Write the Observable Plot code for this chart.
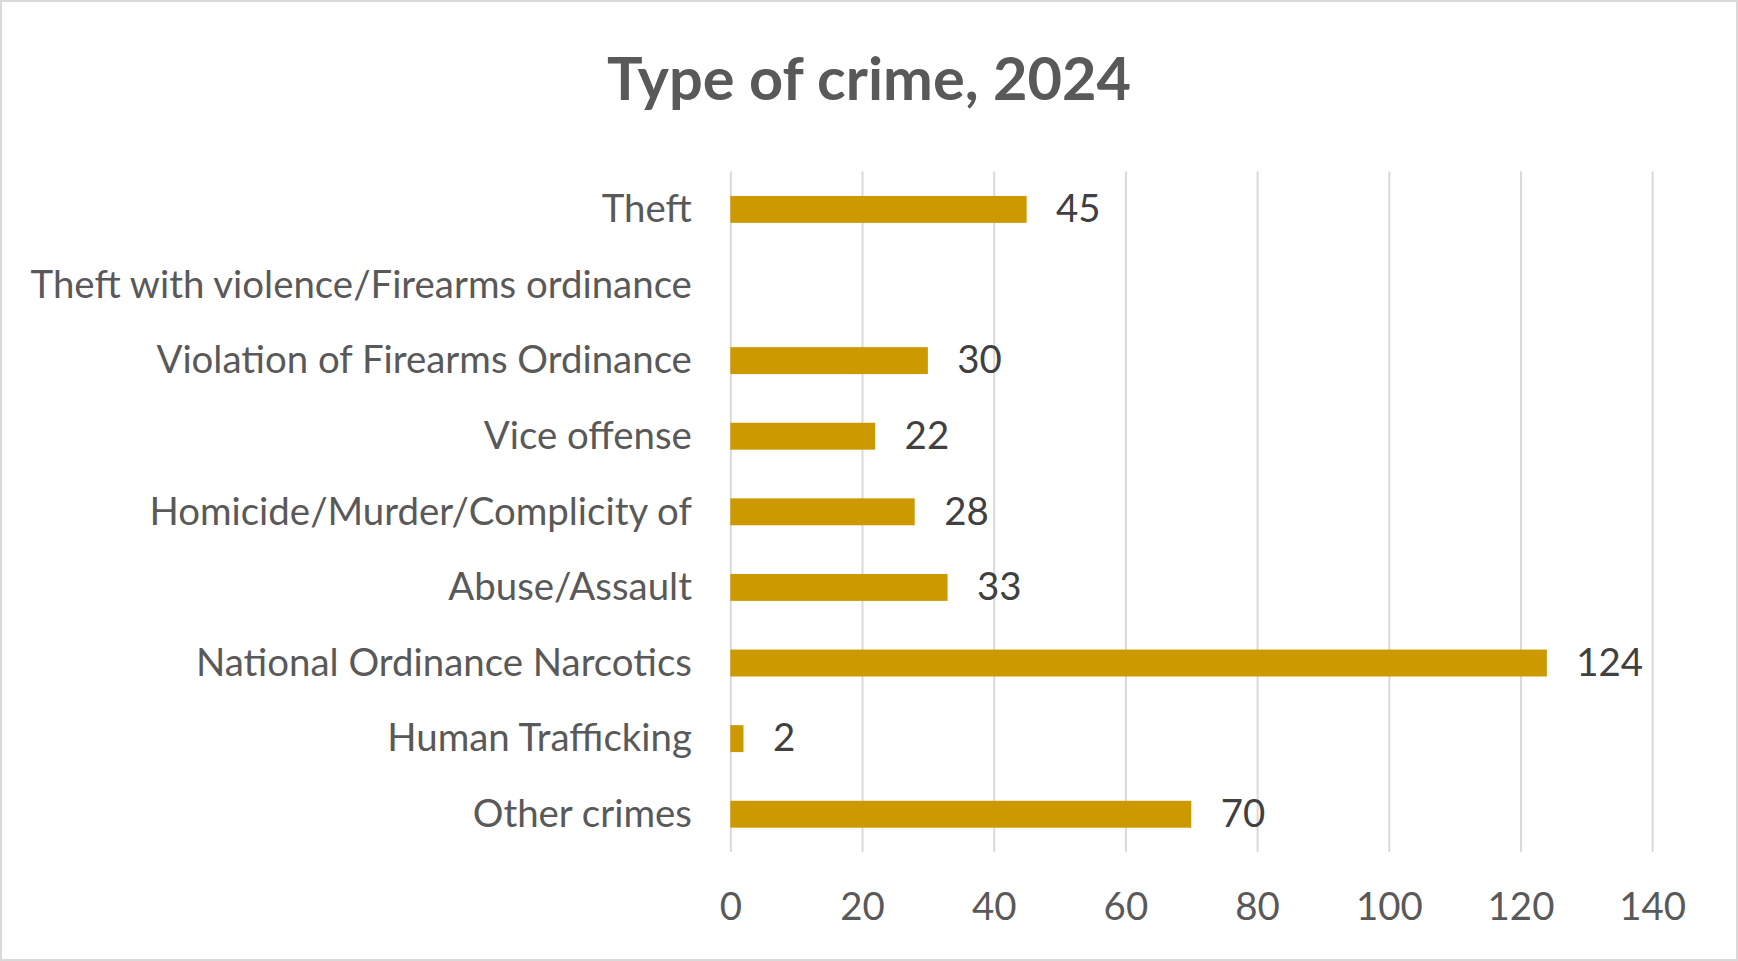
<!DOCTYPE html>
<html>
<head>
<meta charset="utf-8">
<script src="https://cdn.jsdelivr.net/npm/d3@7"></script>
<script src="https://cdn.jsdelivr.net/npm/@observablehq/plot@0.6"></script>
<style>
  html, body { margin: 0; padding: 0; background: #fff; }
  #chart {
    position: relative; width: 1738px; height: 961px;
    box-sizing: border-box; border: 2px solid #D9D9D9; overflow: hidden;
    font-family: Lato, "Open Sans", sans-serif;
  }
  #title {
    position: absolute; left: 0; right: 0; top: 40px; text-align: center;
    font: bold 59.5px Lato, sans-serif; color: #595959; line-height: 70px;
  }
  #chart svg { position: absolute; left: 0; top: 0; }
</style>
</head>
<body>
<div id="chart"><div id="title">Type of crime, 2024</div></div>
<script>
const categories = [
  "Theft",
  "Theft with violence/Firearms ordinance",
  "Violation of Firearms Ordinance",
  "Vice offense",
  "Homicide/Murder/Complicity of",
  "Abuse/Assault",
  "National Ordinance Narcotics",
  "Human Trafficking",
  "Other crimes"
];
const counts = [45, null, 30, 22, 28, 33, 124, 2, 70];
const xTicks = [0, 20, 40, 60, 80, 100, 120, 140];

const data = categories.map((c, i) => ({category: c, value: counts[i]}));
const withValues = data.filter(d => d.value != null);

const chart = Plot.plot({
  width: 1738,
  height: 961,
  marginTop: 170,
  marginBottom: 109,
  marginLeft: 730,
  marginRight: 84,
  style: {fontFamily: "Lato, sans-serif", fontSize: "38.5px", background: "transparent"},
  x: {domain: [0, 140], ticks: xTicks, label: null, round: false},
  y: {domain: categories, paddingInner: 0.644, paddingOuter: 0.322, round: false, label: null},
  marks: [
    Plot.gridX(xTicks, {stroke: "#D9D9D9", strokeOpacity: 1, strokeWidth: 2}),
    Plot.barX(withValues, {x: "value", y: "category", fill: "#CC9900"}),
    Plot.text(withValues, {x: "value", y: "category", text: d => String(d.value), dx: 29, textAnchor: "start", fill: "#404040", fontSize: 38.5}),
    Plot.axisX(xTicks, {tickSize: 0, tickPadding: 40, color: "#595959", fontSize: 38.5, label: null}),
    Plot.axisY({tickSize: 0, tickPadding: 39, color: "#595959", fontSize: 38.5, label: null})
  ]
});
document.getElementById("chart").appendChild(chart);
</script>
</body>
</html>
